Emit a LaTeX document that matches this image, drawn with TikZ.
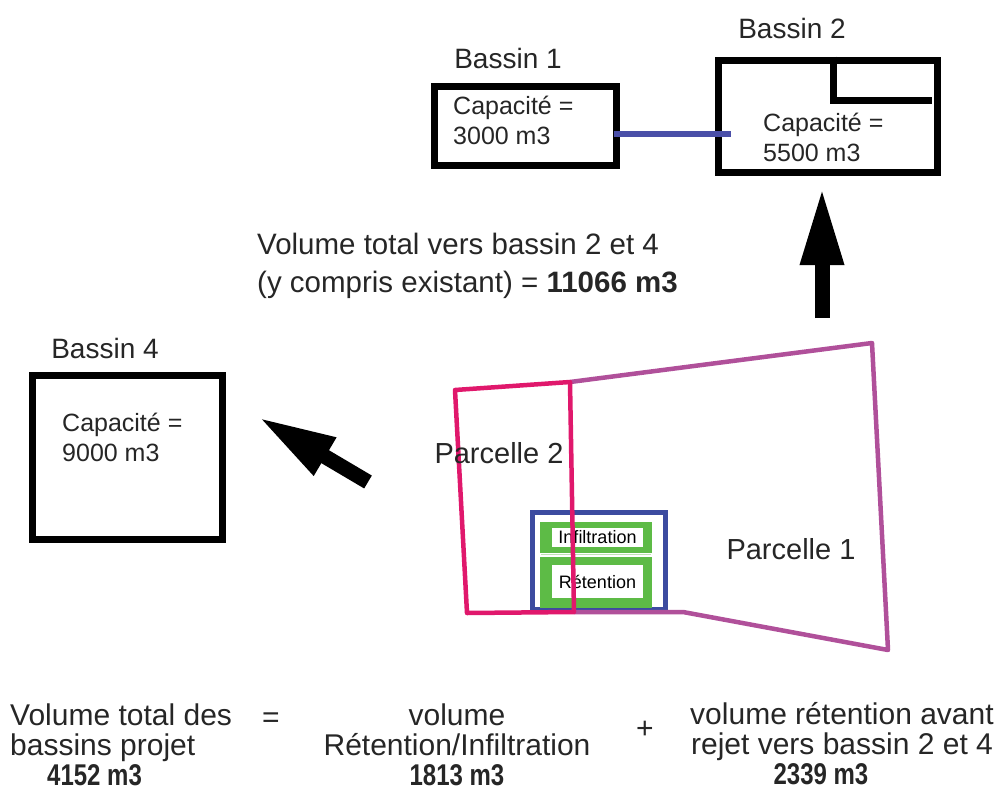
\documentclass[tikz,border=0pt]{standalone}
\usepackage{fontspec}
\usepackage{graphicx}
\setmainfont{Liberation Sans}
\usetikzlibrary{arrows.meta}
\definecolor{pcrim}{HTML}{E0186C}
\definecolor{ppurp}{HTML}{B0509A}
\definecolor{pblue}{HTML}{3C4BA0}
\definecolor{pgreen}{HTML}{5DBB46}
\definecolor{lblue}{HTML}{4A4FA8}
\newcommand{\cnum}[1]{\scalebox{0.8}[1]{\textbf{#1}}}
\begin{document}
\begin{tikzpicture}[x=1pt,y=-1pt,
  bassin/.style={draw=black,line width=7pt,inner sep=0pt,anchor=north west},
  lbl/.style={font=\fontsize{28}{30}\selectfont,inner sep=0pt,text=black!85},
  captxt/.style={font=\fontsize{25}{30}\selectfont,inner sep=0pt,align=left,anchor=west,text=black!85},
  bigarrow/.style={line width=15pt,-{Triangle[length=78pt,width=40pt]}},
  gbox/.style={fill=pgreen,inner sep=0pt},
  wbox/.style={fill=white,inner sep=0pt,font=\fontsize{18}{20}\selectfont},
  bottom/.style={font=\fontsize{30}{30}\selectfont,inner sep=0pt,text=black!85}]
\useasboundingbox (0,0) rectangle (1002,793);
% Bassin 1
\node[bassin,minimum width=182,minimum height=79] (b1) at (430.5,82.5) {};
\node[lbl] (b1l) at (508,58) {Bassin 1};
\node[captxt] (b1c) at (453,120) {Capacité =\\3000 m3};
% Bassin 2
\node[bassin,minimum width=219,minimum height=112] (b2) at (714.5,56.5) {};
\draw[line width=7pt] (833,56.5) |- (932,100);
\node[lbl] (b2l) at (792,28) {Bassin 2};
\node[captxt] (b2c) at (763,137) {Capacité =\\5500 m3};
% connector
\coordinate (c1) at ([xshift=-6pt,yshift=-8pt]b1.east);
\draw[lblue,line width=6pt] (c1) -- ([xshift=16pt]c1 -| b2.west);
% Bassin 4
\node[bassin,minimum width=190,minimum height=164] (b4) at (28.5,371.5) {};
\node[lbl] (b4l) at (105,348) {Bassin 4};
\node[captxt] (b4c) at (62,437) {Capacité =\\9000 m3};
% middle text
\node[font=\fontsize{29.5}{38}\selectfont,inner sep=0pt,align=left,anchor=west,text=black!85] (mid) at (257,266)
  {Volume total vers bassin 2 et 4\\(y compris existant) = \textbf{11066 m3}};
% arrows
\coordinate (upTail) at (822,318);
\coordinate (upTip) at (822,187);
\draw[bigarrow] (upTail) -- (upTip);
\coordinate (dTail) at (368,482);
\coordinate (dTip) at (258,417);
\draw[bigarrow] (dTail) -- (dTip);
% retention / infiltration
\node[draw=pblue,line width=5pt,minimum width=133,minimum height=97,inner sep=0pt] (ret) at (599,561) {};
\node[gbox,minimum width=112,minimum height=31] (ginf) at (596,537.5) {};
\node[wbox,minimum width=91,minimum height=19] (inf) at (597.5,537.5) {Infiltration};
\node[gbox,minimum width=112,minimum height=51] (gret) at (596,582.5) {};
\node[wbox,minimum width=91,minimum height=33] (rtn) at (597.5,581.5) {Rétention};
\draw[pgreen!40!white,line width=1.5pt] (541,554.5) -- (651,554.5);
% parcelles
\draw[ppurp,line width=4.5pt,line join=round] (570,382) -- (872,343) -- (888,650) -- (683,612) -- (574,612);
\draw[pcrim,line width=4.5pt,line join=round] (455,390) -- (570,382) -- (574,612) -- (467,613) -- cycle;
\node[lbl,font=\fontsize{29}{30}\selectfont] (p2) at (499,453) {Parcelle 2};
\node[lbl,font=\fontsize{29}{30}\selectfont] (p1) at (791,549) {Parcelle 1};
% bottom equation
\node[bottom,align=left,anchor=west] (eq1) at (10,745) {Volume total des\\bassins projet\\\hspace*{37pt}\cnum{4152 m3}};
\node[bottom] (eqs) at (271,720) {=};
\node[bottom,align=center] (eq2) at (457,745) {volume\\Rétention/Infiltration\\\cnum{1813 m3}};
\node[bottom] (eqp) at (645,730) {+};
\node[bottom,align=center] (eq3) at (842,744) {volume rétention avant\\rejet vers bassin 2 et 4\\\cnum{2339 m3}\hspace*{42pt}};
\end{tikzpicture}
\end{document}
